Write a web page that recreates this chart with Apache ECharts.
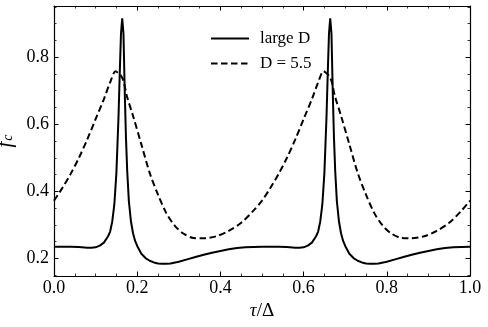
<!DOCTYPE html>
<html>
<head>
<meta charset="utf-8">
<script src="https://cdn.jsdelivr.net/npm/echarts@6/dist/echarts.min.js"></script>
<style>
  html, body { margin: 0; padding: 0; background: #fff; }
  #chart { width: 488px; height: 327px; }
</style>
</head>
<body>
<div id="chart"></div>
<script>
var myChart = echarts.init(document.getElementById('chart'));

// values
var seriesNames = ['large D', 'D = 5.5'];

var solidX = [0, 0.02, 0.04, 0.06, 0.08, 0.09, 0.10, 0.11, 0.12, 0.13, 0.135, 0.14, 0.145, 0.15, 0.155, 0.158, 0.161, 0.164,
  0.167, 0.170, 0.173, 0.176, 0.18, 0.185, 0.19, 0.195, 0.2, 0.21, 0.22, 0.23, 0.24, 0.25, 0.26, 0.27, 0.28, 0.30, 0.32,
  0.34, 0.36, 0.38, 0.40, 0.42, 0.44, 0.46, 0.48,
  0.50, 0.52, 0.54, 0.56, 0.58, 0.59, 0.60, 0.61, 0.62, 0.63, 0.635, 0.64, 0.645, 0.65, 0.655, 0.658, 0.661, 0.664,
  0.667, 0.670, 0.673, 0.676, 0.68, 0.685, 0.69, 0.695, 0.7, 0.71, 0.72, 0.73, 0.74, 0.75, 0.76, 0.77, 0.78, 0.80, 0.82,
  0.84, 0.86, 0.88, 0.90, 0.92, 0.94, 0.96, 0.98, 1.0];
var solidY = [0.235, 0.235, 0.235, 0.234, 0.232, 0.232, 0.233, 0.238, 0.247, 0.266, 0.28, 0.31, 0.36, 0.455, 0.62, 0.75, 0.87, 0.916,
  0.87, 0.70, 0.56, 0.46, 0.37, 0.31, 0.275, 0.252, 0.237, 0.214, 0.201, 0.193, 0.188, 0.185, 0.184, 0.184, 0.185, 0.19, 0.197,
  0.204, 0.211, 0.217, 0.222, 0.227, 0.231, 0.233, 0.234,
  0.235, 0.235, 0.235, 0.234, 0.232, 0.232, 0.233, 0.238, 0.247, 0.266, 0.28, 0.31, 0.36, 0.455, 0.62, 0.75, 0.87, 0.916,
  0.87, 0.70, 0.56, 0.46, 0.37, 0.31, 0.275, 0.252, 0.237, 0.214, 0.201, 0.193, 0.188, 0.185, 0.184, 0.184, 0.185, 0.19, 0.197,
  0.204, 0.211, 0.217, 0.222, 0.227, 0.231, 0.233, 0.234, 0.235];

var dashX = [0, 0.02, 0.04, 0.06, 0.08, 0.10, 0.12, 0.135, 0.148, 0.155, 0.162, 0.168, 0.175, 0.19, 0.21, 0.23, 0.25, 0.27,
  0.29, 0.31, 0.335, 0.36, 0.39, 0.42, 0.45, 0.48,
  0.50, 0.52, 0.54, 0.56, 0.58, 0.60, 0.62, 0.635, 0.648, 0.655, 0.662, 0.668, 0.675, 0.69, 0.71, 0.73, 0.75, 0.77,
  0.79, 0.81, 0.835, 0.86, 0.89, 0.92, 0.95, 0.98, 1.0];
var dashY = [0.372, 0.41, 0.452, 0.50, 0.555, 0.615, 0.675, 0.725, 0.758, 0.752, 0.743, 0.725, 0.685, 0.625, 0.54, 0.455, 0.39, 0.335,
  0.298, 0.275, 0.261, 0.26, 0.266, 0.282, 0.306, 0.343,
  0.372, 0.41, 0.452, 0.50, 0.555, 0.615, 0.675, 0.725, 0.758, 0.752, 0.743, 0.725, 0.685, 0.625, 0.54, 0.455, 0.39, 0.335,
  0.298, 0.275, 0.261, 0.26, 0.266, 0.282, 0.306, 0.343, 0.372];

function pairs(xs, ys) {
  return xs.map(function (x, i) { return [x, ys[i]]; });
}

var serif = 'Liberation Serif';
var ink = '#000';

var xBase = {
  type: 'value', min: 0, max: 1, interval: 0.2,
  axisLine: { show: true, onZero: false, lineStyle: { color: ink, width: 1.2 } },
  axisTick: { show: true, inside: true, length: 4.5, lineStyle: { color: ink, width: 1 } },
  minorTick: { show: true, splitNumber: 4, length: 2.5, lineStyle: { color: ink, width: 0.8 } },
  splitLine: { show: false }
};
var yBase = {
  type: 'value', min: 0.1475, max: 0.9525, minInterval: 0.2, maxInterval: 0.2,
  axisLine: { show: true, onZero: false, lineStyle: { color: ink, width: 1.2 } },
  axisTick: { show: true, inside: true, length: 4.5, lineStyle: { color: ink, width: 1 } },
  minorTick: { show: true, splitNumber: 4, length: 2.5, lineStyle: { color: ink, width: 0.8 } },
  splitLine: { show: false }
};

var option = {
  animation: false,
  backgroundColor: '#fff',
  grid: { left: 54, right: 18, top: 6, bottom: 51, containLabel: false, outerBoundsMode: 'none' },
  legend: {
    orient: 'vertical',
    left: 205, top: 25,
    itemWidth: 38, itemHeight: 14, itemGap: 8,
    data: seriesNames,
    itemStyle: { opacity: 0 },
    textStyle: { fontFamily: serif, fontSize: 17, color: ink, padding: [0, 0, 0, 6] }
  },
  xAxis: [
    Object.assign({}, xBase, {
      position: 'bottom',
      axisLabel: { color: ink, fontFamily: serif, fontSize: 18, margin: 3, formatter: function (v) { return v.toFixed(1); } },
      name: '{i|τ}/Δ', nameLocation: 'middle', nameGap: 20,
      nameTextStyle: { color: ink, fontFamily: serif, fontSize: 19, rich: { i: { fontFamily: serif, fontStyle: 'italic', fontSize: 19 } } }
    }),
    Object.assign({}, xBase, { position: 'top', axisLabel: { show: false } })
  ],
  yAxis: [
    Object.assign({}, yBase, {
      position: 'left',
      axisLabel: { color: ink, fontFamily: serif, fontSize: 18, margin: 5, showMinLabel: false, showMaxLabel: false,
        formatter: function (v) { return v.toFixed(1); } },
      name: '{f|f}{c|c}', nameLocation: 'middle', nameGap: 27, nameRotate: 90,
      nameTextStyle: { color: ink, fontFamily: serif, fontSize: 20, verticalAlign: 'middle',
        rich: {
          f: { fontFamily: serif, fontStyle: 'italic', fontSize: 21, lineHeight: 22 },
          c: { fontFamily: serif, fontStyle: 'italic', fontSize: 14, lineHeight: 22, padding: [6, 0, 0, 1] }
        } }
    }),
    Object.assign({}, yBase, { position: 'right', axisLabel: { show: false } })
  ],
  series: [
    {
      name: seriesNames[0], type: 'line', xAxisIndex: 0, yAxisIndex: 0,
      data: pairs(solidX, solidY),
      showSymbol: false, symbol: 'none', smooth: false,
      lineStyle: { color: ink, width: 2, type: 'solid' },
      itemStyle: { color: ink }
    },
    {
      name: seriesNames[1], type: 'line', xAxisIndex: 0, yAxisIndex: 0,
      data: pairs(dashX, dashY),
      showSymbol: false, symbol: 'none', smooth: 0.3,
      lineStyle: { color: ink, width: 2, type: [6.5, 3.5] },
      itemStyle: { color: ink }
    }
  ]
};

myChart.setOption(option);
</script>
</body>
</html>
